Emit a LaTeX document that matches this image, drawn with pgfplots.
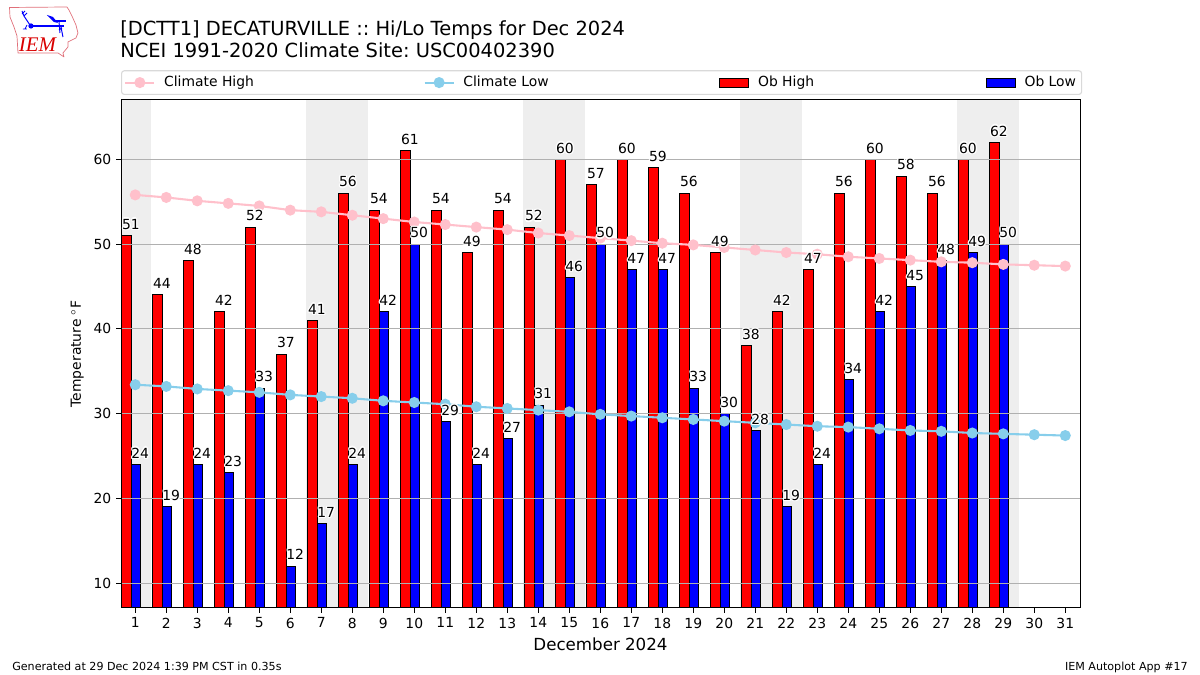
\documentclass[border=0pt]{standalone}
\usepackage{pgfplots}
\pgfplotsset{compat=1.18}
\usepackage{pgfplotstable}
\usepackage{fontspec}
\setmainfont{DejaVu Sans}
\newfontfamily\logofont{Liberation Serif}
\frenchspacing
\definecolor{climhi}{HTML}{FFC0CB}
\definecolor{climlo}{HTML}{87CEEB}
\definecolor{wkend}{HTML}{EEEEEE}
\definecolor{gridc}{HTML}{B0B0B0}
\definecolor{legc}{HTML}{D9D9D9}
\definecolor{logored}{HTML}{E0707A}
\newdimen\px \px=0.01in
\newcommand{\hcopy}[3]{\makebox[0pt][l]{\kern#1\raisebox{#2}{\textcolor{white}{#3}}}}
\newcommand{\halo}[1]{\hcopy{1.3\px}{0pt}{#1}\hcopy{-1.3\px}{0pt}{#1}\hcopy{0pt}{1.3\px}{#1}\hcopy{0pt}{-1.3\px}{#1}\hcopy{1\px}{1\px}{#1}\hcopy{-1\px}{1\px}{#1}\hcopy{1\px}{-1\px}{#1}\hcopy{-1\px}{-1\px}{#1}#1}
\pgfplotstableread{
day high low
1 51 24
2 44 19
3 48 24
4 42 23
5 52 33
6 37 12
7 41 17
8 56 24
9 54 42
10 61 50
11 54 29
12 49 24
13 54 27
14 52 31
15 60 46
16 57 50
17 60 47
18 59 47
19 56 33
20 49 30
21 38 28
22 42 19
23 47 24
24 56 34
25 60 42
26 58 45
27 56 48
28 60 49
29 62 50
}\obs
\pgfplotstableread{
day chigh clow
1 55.8 33.4
2 55.5 33.2
3 55.1 32.9
4 54.8 32.7
5 54.5 32.5
6 54.0 32.2
7 53.8 32.0
8 53.4 31.8
9 53.0 31.5
10 52.6 31.3
11 52.3 31.1
12 52.0 30.8
13 51.7 30.6
14 51.3 30.4
15 51.0 30.2
16 50.7 29.9
17 50.4 29.7
18 50.1 29.5
19 49.9 29.3
20 49.6 29.1
21 49.3 28.9
22 49.0 28.7
23 48.8 28.5
24 48.5 28.4
25 48.3 28.2
26 48.1 28.0
27 47.9 27.9
28 47.8 27.7
29 47.6 27.6
30 47.5 27.5
31 47.4 27.4
}\clim
\pgfplotsset{
  layers/chart/.define layer set={axis background,pre main,axis grid,axis ticks,axis tick labels,main,axis lines,axis descriptions,axis foreground}{},
}
\begin{document}
\begin{tikzpicture}
\begin{axis}[
  set layers=chart,
  at={(1.21in,0.67in)},anchor=south west,
  scale only axis,width=9.59in,height=5.08in,
  xmin=0.54,xmax=31.475,ymin=7.05,ymax=67.0,
  xtick={1,...,31},ytick={10,20,...,60},
  tick align=outside,tick style={black,line width=0.72bp},
  major tick length=3.5bp,
  axis line style={black,line width=0.72bp},
  xtick pos=bottom,ytick pos=left,
  ymajorgrids,grid style={gridc,line width=0.72bp},
  /pgf/number format/assume math mode=true,
  tick label style={font=\fontsize{10bp}{12bp}\selectfont},
  xlabel={December 2024},
  xlabel style={font=\fontsize{12bp}{14bp}\selectfont,inner sep=0pt,yshift=-5\px},
  ylabel={Temperature\hspace{3bp}$^\circ$F},
  ylabel style={font=\fontsize{10bp}{12bp}\selectfont,inner sep=0pt,yshift=5\px},
  legend columns=4,
  legend style={at={(0,1)},anchor=south west,yshift=5\px,draw=legc,line width=0.8bp,rounded corners=2pt,
    font=\fontsize{10bp}{12bp}\selectfont,inner xsep=2pt,inner ysep=2pt,
    /tikz/column 1/.style={column sep=6\px},
    /tikz/column 3/.style={column sep=6\px},
    /tikz/column 5/.style={column sep=6\px},
    /tikz/column 7/.style={column sep=6\px},
    /tikz/column 2/.style={column sep=167\px},
    /tikz/column 4/.style={column sep=168\px},
    /tikz/column 6/.style={column sep=169\px}},
  legend cell align=left,
]
% weekends
\addplot[forget plot,fill=wkend,draw=none,on layer=axis background] coordinates {(0.54,7.05)(1.5,7.05)(1.5,67)(0.54,67)} -- cycle;
\addplot[forget plot,fill=wkend,draw=none,on layer=axis background] coordinates {(6.5,7.05)(8.5,7.05)(8.5,67)(6.5,67)} -- cycle;
\addplot[forget plot,fill=wkend,draw=none,on layer=axis background] coordinates {(13.5,7.05)(15.5,7.05)(15.5,67)(13.5,67)} -- cycle;
\addplot[forget plot,fill=wkend,draw=none,on layer=axis background] coordinates {(20.5,7.05)(22.5,7.05)(22.5,67)(20.5,67)} -- cycle;
\addplot[forget plot,fill=wkend,draw=none,on layer=axis background] coordinates {(27.5,7.05)(29.5,7.05)(29.5,67)(27.5,67)} -- cycle;
% climate
\addplot[climhi,line width=1.5bp,mark=*,mark size=3.2bp,mark options={solid,fill=climhi,draw=none},
  legend image code/.code={\draw[climhi,line width=1.5bp,sharp corners] (0,0)--(29\px,0);\fill[climhi] (14.5\px,0) circle (3.2bp);}]
  table[x=day,y=chigh] {\clim};
\addlegendentry{Climate High}
\addplot[climlo,line width=1.5bp,mark=*,mark size=3.2bp,mark options={solid,fill=climlo,draw=none},
  legend image code/.code={\draw[climlo,line width=1.5bp,sharp corners] (0,0)--(29\px,0);\fill[climlo] (14.5\px,0) circle (3.2bp);}]
  table[x=day,y=clow] {\clim};
\addlegendentry{Climate Low}
% bars
\addplot[ybar,bar width=0.3,bar shift=-0.285,fill=red,draw=black,line width=0.72bp,on layer=pre main,
  legend image code/.code={\draw[fill=red,draw=black,line width=0.72bp,sharp corners] (0,-4.5\px) rectangle (29\px,4.5\px);}]
  table[x=day,y=high] {\obs};
\addlegendentry{Ob High}
\addplot[ybar,bar width=0.3,bar shift=0.015,fill=blue,draw=black,line width=0.72bp,on layer=pre main,
  legend image code/.code={\draw[fill=blue,draw=black,line width=0.72bp,sharp corners] (0,-4.5\px) rectangle (29\px,4.5\px);}]
  table[x=day,y=low] {\obs};
\addlegendentry{Ob Low}
% value labels
\addplot[forget plot,draw=none,mark=none,on layer=axis foreground,
  nodes near coords={\halo{\pgfmathprintnumber{\pgfplotspointmeta}}},
  point meta=y,
  nodes near coords style={font=\fontsize{10bp}{12bp}\selectfont,anchor=base,inner sep=0pt,yshift=6.3\px}]
  table[x expr=\thisrow{day}-0.14,y=high] {\obs};
\addplot[forget plot,draw=none,mark=none,on layer=axis foreground,
  nodes near coords={\halo{\pgfmathprintnumber{\pgfplotspointmeta}}},
  point meta=y,
  nodes near coords style={font=\fontsize{10bp}{12bp}\selectfont,anchor=base,inner sep=0pt,yshift=6.3\px}]
  table[x expr=\thisrow{day}+0.16,y=low] {\obs};
\end{axis}
% titles
\node[anchor=base west,inner sep=0pt,font=\fontsize{14bp}{16bp}\selectfont] at (1.20in,6.39in) {[DCTT1] DECATURVILLE :: Hi/Lo Temps for Dec 2024};
\node[anchor=base west,inner sep=0pt,font=\fontsize{14bp}{16bp}\selectfont] at (1.20in,6.175in) {NCEI 1991-2020 Climate Site: USC00402390};
% footer
\node[anchor=base west,inner sep=0pt,font=\fontsize{8bp}{10bp}\selectfont] at (0.12in,0.045in) {Generated at 29 Dec 2024 1:39 PM CST in 0.35s};
\node[anchor=base east,inner sep=0pt,font=\fontsize{8bp}{10bp}\selectfont] at (11.88in,0.045in) {IEM Autoplot App \#17};
% logo (coordinates in px from top-left)
\begin{scope}[shift={(0,6.75in)},x=0.01in,y=-0.01in]
\draw[logored,line width=0.5bp,line join=round] (9.5,7.5)--(67,7)--(69,10)--(72,16)--(76,25)--(78,33)--(76,38)--(68,42)--(68,47)--(63,53)--(64,57)--(58,53)--(18,53)--(17,36)--(14,27)--(10,17)--cycle;
\draw[blue,line width=0.9bp] (31,26)--(64,26);
\fill[blue] (31,26) circle (2.6);
\draw[blue,line width=0.7bp] (30,25)--(24,16)--(22,11) (24,16)--(27,13) (22,14)--(25,11);
\fill[blue] (47,15)--(53,17)--(58,23)--(54,22)--cycle;
\draw[blue,line width=0.9bp] (55,21)--(66,21);
\draw[blue,line width=0.7bp] (59,21)--(60,33) (59,30)--(62,28) (61,27)--(63,37);
\draw[blue,line width=0.6bp] (25,29)--(27,25) (23,29)--(27,29);
\node[text=red!85!black,anchor=base,inner sep=0pt,font=\logofont\itshape\fontsize{15bp}{16bp}\selectfont] at (37.5,51.5) {IEM};
\end{scope}
\pgfresetboundingbox
\path[use as bounding box] (0,0) rectangle (12in,6.75in);
\end{tikzpicture}
\end{document}
